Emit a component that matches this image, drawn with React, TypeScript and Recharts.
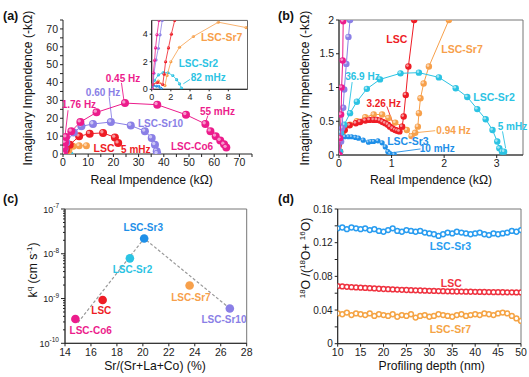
import React from "react";
import {
  ScatterChart,
  Scatter,
  XAxis,
  YAxis,
  ReferenceArea,
  ReferenceDot,
  ReferenceLine,
} from "recharts";

const FONT = "'Liberation Sans', Arial, sans-serif";

const C = {
  co6: "#EC1C8C",
  sr10: "#8A7FE6",
  lsc: "#EE1C25",
  sr7: "#F7A04B",
  sr2: "#2BC3E3",
  sr3: "#1E8FE8",
};

type P = [number, number];

// (a) main Nyquist plot, kOhm
const co6A: P[] = [[0.3, 0], [0.5, 3.5], [0.8, 6.5], [1.2, 9.5], [3.3, 12.7], [6.9, 17.9], [13.3, 23.3], [24.6, 28.5], [37.4, 27.6], [48.8, 22.0], [56.5, 16.8], [58.5, 12.8], [60.6, 9.9], [62.4, 7.6], [63.9, 5.4], [64.8, 3.6]];
const sr10A: P[] = [[0.3, 0], [0.6, 3], [1.3, 6.5], [4.3, 12.1], [7.3, 15.5], [11.9, 16.8], [19.0, 17.9], [26.9, 16.0], [32.5, 12.7], [35.2, 9.0], [36.5, 5.2], [37.2, 1.5], [37.4, 0.2]];
const lscA: P[] = [[0.5, 0], [1.2, 2.5], [2.7, 5.2], [6.4, 9.9], [10.6, 11.4], [15.9, 11.8], [20.6, 9.3], [21.9, 6.1]];
const sr7A: P[] = [[0.5, 0], [1.5, 0.9], [2.3, 2.0], [4.0, 4.3], [6.4, 4.6], [9.3, 4.6]];
const sr2A: P[] = [[0.3, 0.3], [1.5, 1.2], [2.6, 0.9], [3.1, 0.1]];
const sr3A: P[] = [[0.1, 0.1], [0.5, 0.25], [1.0, 0.05]];

// (a) inset
const co6I: P[] = [[0.1, 0], [0.17, 1.2], [0.3, 2.1], [0.4, 3.0], [0.55, 3.95], [0.76, 5.0], [0.9, 6]];
const sr10I: P[] = [[0.1, 0], [0.24, 1.16], [0.45, 2.13], [0.69, 2.98], [0.87, 3.95], [1.1, 5.0], [1.3, 6]];
const lscI: P[] = [[0.1, 0.35], [0.6, 0.5], [1.15, 0.35], [1.3, 1.1], [1.45, 2.0], [1.75, 3.0], [2.05, 4.0], [2.4, 5.0], [2.6, 6]];
const sr7I: P[] = [[0.1, 0.35], [0.7, 0.6], [1.38, 0.27], [1.6, 1.0], [2.0, 2.0], [2.9, 3.05], [4.35, 3.83], [6.95, 4.87], [9.85, 4.48]];
const sr2I: P[] = [[0.05, 0.2], [0.3, 0.65], [0.7, 1.04], [1.2, 1.22], [1.7, 1.2], [2.2, 1.0], [2.6, 0.7], [2.9, 0.4], [3.1, 0.08]];
const sr3I: P[] = [[0.05, 0.05], [0.2, 0.27], [0.5, 0.22], [0.75, 0.21], [0.95, 0.08], [1.05, 0.01]];

// (b) zoomed Nyquist plot
const co6B: P[] = [[0.01, 0], [0.02, 0.25], [0.04, 0.6], [0.05, 1.0], [0.07, 1.4], [0.08, 1.98], [0.1, 2.4]];
const sr10B: P[] = [[0.01, 0], [0.04, 0.2], [0.06, 0.4], [0.08, 0.7], [0.1, 0.97], [0.14, 1.35], [0.18, 1.75], [0.21, 2.0], [0.25, 2.4]];
const lscB: P[] = [[0.02, 0.05], [0.11, 0.37], [0.2, 0.44], [0.32, 0.47], [0.4, 0.49], [0.5, 0.51], [0.58, 0.52], [0.66, 0.52], [0.72, 0.52], [0.78, 0.51], [0.83, 0.49], [0.88, 0.47], [0.93, 0.45], [0.97, 0.42], [1.02, 0.39], [1.07, 0.37], [1.11, 0.36], [1.15, 0.35], [1.2, 0.42], [1.23, 0.57], [1.27, 0.89], [1.32, 1.31], [1.43, 2.0], [1.5, 2.4]];
const sr7B: P[] = [[0.02, 0.05], [0.08, 0.35], [0.21, 0.45], [0.34, 0.5], [0.5, 0.56], [0.66, 0.6], [0.82, 0.6], [0.94, 0.55], [1.07, 0.48], [1.2, 0.42], [1.29, 0.37], [1.38, 0.28], [1.45, 0.33], [1.5, 0.42], [1.52, 0.62], [1.55, 0.84], [1.61, 1.06], [1.71, 1.31], [2.09, 2.0], [2.2, 2.2]];
const sr2B: P[] = [[0.02, 0.05], [0.04, 0.33], [0.1, 0.45], [0.21, 0.62], [0.34, 0.79], [0.53, 0.98], [0.78, 1.12], [1.17, 1.21], [1.52, 1.22], [1.9, 1.15], [2.22, 0.99], [2.44, 0.86], [2.63, 0.68], [2.79, 0.53], [2.92, 0.37], [3.01, 0.2], [3.05, 0.1], [3.1, 0.05], [3.14, 0.05]];
const sr3B: P[] = [[0.0, 0.03], [0.04, 0.2], [0.11, 0.27], [0.18, 0.27], [0.24, 0.27], [0.31, 0.26], [0.37, 0.25], [0.46, 0.22], [0.56, 0.19], [0.61, 0.2], [0.66, 0.2], [0.74, 0.21], [0.82, 0.18], [0.88, 0.12], [0.93, 0.05], [0.97, 0.02], [1.05, 0.01]];

// (c) k^q vs Sr fraction
const cNames = ["LSC-Co6", "LSC", "LSC-Sr2", "LSC-Sr3", "LSC-Sr7", "LSC-Sr10"];
const cSr = [14.8, 16.9, 19.0, 20.1, 23.6, 26.7];
const cK = [3.5e-10, 9.3e-10, 7.9e-9, 2.2e-8, 1.95e-9, 6.0e-10];
const trendSr = [15.0, 20.1, 26.7];
const trendK = [2.9e-10, 2.2e-8, 6.0e-10];
const cColor: Record<string, string> = {
  "LSC-Co6": C.co6,
  LSC: C.lsc,
  "LSC-Sr2": C.sr2,
  "LSC-Sr3": C.sr3,
  "LSC-Sr7": C.sr7,
  "LSC-Sr10": C.sr10,
};

// (d) 18O fraction vs depth
const depth = [10, 11, 12, 13, 14, 15, 16, 17, 18, 19, 20, 21, 22, 23, 24, 25, 26, 27, 28, 29, 30, 31, 32, 33, 34, 35, 36, 37, 38, 39, 40, 41, 42, 43, 44, 45, 46, 47, 48, 49, 50];
const sr3D = [0.137, 0.138, 0.136, 0.138, 0.137, 0.136, 0.137, 0.135, 0.136, 0.134, 0.133, 0.135, 0.137, 0.134, 0.133, 0.135, 0.134, 0.133, 0.134, 0.132, 0.131, 0.130, 0.128, 0.130, 0.132, 0.131, 0.133, 0.132, 0.131, 0.130, 0.131, 0.132, 0.130, 0.129, 0.131, 0.130, 0.131, 0.132, 0.134, 0.133, 0.135];
const lscD = [0.0685, 0.068, 0.0676, 0.0672, 0.0669, 0.0665, 0.0662, 0.0659, 0.0656, 0.0653, 0.065, 0.0648, 0.0645, 0.0643, 0.064, 0.0638, 0.0636, 0.0634, 0.0632, 0.063, 0.0628, 0.0627, 0.0625, 0.0624, 0.0622, 0.0621, 0.062, 0.0619, 0.0618, 0.0617, 0.0616, 0.0615, 0.0614, 0.0613, 0.0612, 0.0612, 0.0611, 0.061, 0.061, 0.0609, 0.0609];
const sr7D = [0.036, 0.035, 0.037, 0.034, 0.036, 0.035, 0.034, 0.036, 0.033, 0.035, 0.034, 0.033, 0.035, 0.032, 0.034, 0.033, 0.035, 0.031, 0.033, 0.034, 0.032, 0.033, 0.035, 0.034, 0.033, 0.032, 0.034, 0.035, 0.033, 0.034, 0.035, 0.034, 0.036, 0.035, 0.034, 0.036, 0.037, 0.036, 0.033, 0.03, 0.027];

const pts = (a: P[]) => a.map(([x, y]) => ({ x, y }));
const zipD = (ys: number[]) => depth.map((x, i) => ({ x, y: ys[i] }));

const tick = (size: number) => ({ fontSize: size, fill: "#222", fontFamily: FONT });
const axisLine = { stroke: "#222", strokeWidth: 1 };

function ball(color: string, r: number) {
  return (p: any) => (
    <g>
      <circle cx={p.cx} cy={p.cy} r={r} fill={color} />
      <circle cx={p.cx - r * 0.3} cy={p.cy - r * 0.3} r={r * 0.42} fill="#fff" fillOpacity={0.55} />
    </g>
  );
}

function ring(color: string) {
  return (p: any) => <circle cx={p.cx} cy={p.cy} r={2.4} fill="#fff" stroke={color} strokeWidth={1.5} />;
}

function series(data: P[], color: string, r: number, lw = 1) {
  return (
    <Scatter
      data={pts(data)}
      fill={color}
      line={{ stroke: color, strokeWidth: lw }}
      lineType="joint"
      shape={ball(color, r)}
      isAnimationActive={false}
    />
  );
}

function note(x: number, y: number, text: string, color: string, size = 10) {
  return (
    <ReferenceDot
      key={text + x}
      x={x}
      y={y}
      r={0}
      fill="none"
      stroke="none"
      ifOverflow="visible"
      label={{ value: text, position: "center", fill: color, fontSize: size, fontWeight: "bold", fontFamily: FONT }}
    />
  );
}

function pointer(x1: number, y1: number, x2: number, y2: number, color: string) {
  return (
    <ReferenceLine
      key={`${x1}-${y1}`}
      segment={[{ x: x1, y: y1 }, { x: x2, y: y2 }]}
      stroke={color}
      strokeWidth={0.9}
      ifOverflow="visible"
    />
  );
}

const aTicks = [0, 5, 10, 15, 20, 25, 30, 35, 40, 45, 50, 55, 60, 65, 70, 75];
const every10 = (v: number) => (v % 10 === 0 && v < 75 ? String(v) : "");

function PanelA() {
  return (
    <ScatterChart width={265} height={185} margin={{ top: 20, right: 13, left: 18, bottom: 11 }}>
      <XAxis type="number" dataKey="x" domain={[0, 75]} ticks={aTicks} interval={0} tickFormatter={every10} tick={tick(10.5)} tickSize={3} axisLine={axisLine} tickLine={axisLine} height={20} allowDataOverflow />
      <YAxis type="number" dataKey="y" domain={[0, 75]} ticks={aTicks} interval={0} tickFormatter={every10} tick={tick(10.5)} tickSize={3} axisLine={axisLine} tickLine={axisLine} width={45} allowDataOverflow />
      {series(sr3A, C.sr3, 2.5)}
      {series(sr2A, C.sr2, 2.5)}
      {series(sr7A, C.sr7, 3.5)}
      {series(lscA, C.lsc, 4)}
      {series(sr10A, C.sr10, 4)}
      {series(co6A, C.co6, 4)}
      {pointer(2.0, 24.5, 0.8, 10, C.co6)}
      {pointer(18.3, 32.3, 19.3, 20.2, C.sr10)}
      {pointer(23.2, 39.8, 24.2, 29.8, C.co6)}
      {pointer(57.5, 21.5, 56.5, 17.5, C.co6)}
      {pointer(23.3, 4.2, 21.6, 8.0, C.lsc)}
      {note(23.8, 42.2, "0.45 Hz", C.co6)}
      {note(15.9, 34.2, "0.60 Hz", C.sr10)}
      {note(6.3, 27.8, "1.76 Hz", C.co6)}
      {note(61.3, 23.9, "55 mHz", C.co6)}
      {note(38.7, 17.3, "LSC-Sr10", C.sr10)}
      {note(16.3, 3.0, "LSC", C.lsc, 10.5)}
      {note(28.9, 2.6, "5 mHz", C.lsc)}
      {note(51.2, 4.0, "LSC-Co6", C.co6)}
    </ScatterChart>
  );
}

function InsetA() {
  return (
    <ScatterChart width={125} height={95} margin={{ top: 8.4, right: 7.5, left: 0, bottom: 3.7 }}>
      <XAxis type="number" dataKey="x" domain={[0, 10]} ticks={[0, 2, 4, 6, 8]} interval={0} tick={tick(9)} tickSize={2} axisLine={axisLine} tickLine={axisLine} height={14} allowDataOverflow />
      <YAxis type="number" dataKey="y" domain={[0, 5]} ticks={[0, 2, 4]} interval={0} tick={tick(9)} tickSize={2} axisLine={axisLine} tickLine={axisLine} width={21.7} allowDataOverflow />
      <ReferenceArea x1={0} x2={10} y1={0} y2={5} fill="none" stroke="#666" strokeWidth={1} />
      {series(sr3I, C.sr3, 1.4, 0.8)}
      {series(sr2I, C.sr2, 1.6, 0.8)}
      {series(sr7I, C.sr7, 1.6, 0.8)}
      {series(lscI, C.lsc, 1.6, 0.8)}
      {series(sr10I, C.sr10, 1.6, 0.8)}
      {series(co6I, C.co6, 1.6, 0.8)}
      {pointer(4.0, 0.72, 3.3, 0.4, C.sr2)}
      {note(7.3, 3.78, "LSC-Sr7", C.sr7, 10.5)}
      {note(4.87, 1.85, "LSC-Sr2", C.sr2, 10)}
      {note(5.9, 0.86, "82 mHz", C.sr2, 10)}
    </ScatterChart>
  );
}

function PanelB() {
  return (
    <ScatterChart width={264} height={185} margin={{ top: 20, right: 6, left: 29, bottom: 10 }}>
      <XAxis type="number" dataKey="x" domain={[0, 3.5]} ticks={[0, 1, 2, 3]} interval={0} tick={tick(10.5)} tickSize={3} axisLine={axisLine} tickLine={axisLine} height={20} allowDataOverflow />
      <YAxis type="number" dataKey="y" domain={[0, 2]} ticks={[0, 0.5, 1, 1.5, 2]} interval={0} tick={tick(10.5)} tickSize={3} axisLine={axisLine} tickLine={axisLine} width={45} allowDataOverflow />
      <ReferenceArea x1={0} x2={3.5} y1={0} y2={2} fill="none" stroke="#777" strokeWidth={1} />
      {series(sr7B, C.sr7, 3.2)}
      {series(lscB, C.lsc, 3.2)}
      {series(sr2B, C.sr2, 3.2)}
      {series(sr3B, C.sr3, 2.6)}
      {series(sr10B, C.sr10, 3.2)}
      {series(co6B, C.co6, 3.2)}
      {pointer(0.25, 1.08, 0.17, 0.6, C.sr2)}
      {pointer(0.91, 0.72, 1.06, 0.4, C.lsc)}
      {pointer(1.83, 0.36, 1.45, 0.33, C.sr7)}
      {pointer(3.11, 0.35, 3.17, 0.1, C.sr2)}
      {pointer(1.55, 0.09, 0.98, 0.03, C.sr3)}
      {note(1.1, 1.71, "LSC", C.lsc, 10.5)}
      {note(2.34, 1.56, "LSC-Sr7", C.sr7, 10.5)}
      {note(0.446, 1.16, "36.9 Hz", C.sr2)}
      {note(2.95, 0.86, "LSC-Sr2", C.sr2, 10.5)}
      {note(0.85, 0.77, "3.26 Hz", C.lsc)}
      {note(2.18, 0.37, "0.94 Hz", C.sr7)}
      {note(3.3, 0.42, "5 mHz", C.sr2)}
      {note(1.31, 0.21, "LSC-Sr3", C.sr3, 10.5)}
      {note(1.87, 0.1, "10 mHz", C.sr3)}
    </ScatterChart>
  );
}

const logTicks: number[] = [];
for (let e = -10; e < -7; e++) for (let m = 1; m < 10; m++) logTicks.push(m * Math.pow(10, e));
logTicks.push(1e-7);

function LogTick(p: any) {
  const v = p.payload.value;
  const e = Math.log10(v);
  const major = Math.abs(e - Math.round(e)) < 1e-6;
  const ax = p.x + 6;
  return (
    <g>
      <line x1={ax} x2={ax - (major ? 4 : 2)} y1={p.y} y2={p.y} stroke="#222" strokeWidth={1} />
      {major && (
        <text x={ax - 6} y={p.y + 3.5} textAnchor="end" fontSize={9} fill="#222" fontFamily={FONT}>
          10
          <tspan dy={-4.5} fontSize={6.5}>{String(Math.round(e))}</tspan>
        </text>
      )}
    </g>
  );
}

function PanelC() {
  const dots = cNames.map((name, i) => ({ name, x: cSr[i], y: cK[i] }));
  const trend = trendSr.map((x, i) => ({ x, y: trendK[i] }));
  return (
    <ScatterChart width={265} height={192} margin={{ top: 24, right: 18.3, left: 20, bottom: 13.7 }}>
      <XAxis type="number" dataKey="x" domain={[14, 28]} ticks={[14, 16, 18, 20, 22, 24, 26, 28]} interval={0} tick={tick(10.5)} tickSize={3} axisLine={axisLine} tickLine={axisLine} height={20} allowDataOverflow />
      <YAxis type="number" dataKey="y" scale="log" domain={[1e-10, 1e-7]} ticks={logTicks} tick={<LogTick />} tickSize={4} tickMargin={2} tickLine={false} axisLine={axisLine} width={45} allowDataOverflow interval={0} />
      <ReferenceArea x1={14} x2={28} y1={1e-10} y2={1e-7} fill="none" stroke="#777" strokeWidth={1} />
      <Scatter data={trend} line={{ stroke: "#999", strokeWidth: 1.2, strokeDasharray: "3 2" }} lineType="joint" shape={() => <g />} isAnimationActive={false} />
      <Scatter
        data={dots}
        shape={(p: any) => <circle cx={p.cx} cy={p.cy} r={4.3} fill={cColor[p.payload.name]} />}
        isAnimationActive={false}
      />
      {note(20.03, 3.9e-8, "LSC-Sr3", C.sr3)}
      {note(19.2, 4.57e-9, "LSC-Sr2", C.sr2)}
      {note(23.7, 1.07e-9, "LSC-Sr7", C.sr7)}
      {note(16.8, 5.37e-10, "LSC", C.lsc)}
      {note(15.98, 1.95e-10, "LSC-Co6", C.co6)}
      {note(26.25, 3.49e-10, "LSC-Sr10", C.sr10)}
    </ScatterChart>
  );
}

const dYTicks = [0, 0.02, 0.04, 0.06, 0.08, 0.1, 0.12, 0.14, 0.16];

function PanelD() {
  return (
    <ScatterChart width={264} height={192} margin={{ top: 24, right: 8, left: 27.7, bottom: 13.3 }}>
      <XAxis type="number" dataKey="x" domain={[10, 50]} ticks={[10, 15, 20, 25, 30, 35, 40, 45, 50]} interval={0} tick={tick(10.5)} tickSize={3} axisLine={axisLine} tickLine={axisLine} height={20} allowDataOverflow />
      <YAxis type="number" dataKey="y" domain={[0, 0.16]} ticks={dYTicks} tickFormatter={(v: number, i: number) => (i % 2 === 0 ? String(v) : "")} tick={tick(10)} tickSize={3} axisLine={axisLine} tickLine={axisLine} width={45} allowDataOverflow interval={0} />
      <ReferenceArea x1={10} x2={50} y1={0} y2={0.16} fill="none" stroke="#777" strokeWidth={1} />
      <Scatter data={zipD(sr7D)} shape={ring("#F5A445")} isAnimationActive={false} />
      <Scatter data={zipD(lscD)} shape={ring("#EF3340")} isAnimationActive={false} />
      <Scatter data={zipD(sr3D)} shape={ring("#2A9DF0")} isAnimationActive={false} />
      {note(34.6, 0.1152, "LSC-Sr3", "#2A9DF0", 10.5)}
      {note(34.8, 0.0717, "LSC", "#EF3340", 10.5)}
      {note(34.6, 0.0175, "LSC-Sr7", "#F5A445", 10.5)}
    </ScatterChart>
  );
}

function Titles() {
  const t = { fontFamily: FONT, fill: "#111" };
  return (
    <svg width={529} height={377} style={{ position: "absolute", left: 0, top: 0, pointerEvents: "none" }}>
      <g {...t} fontWeight="bold" fontSize={12.5}>
        <text x={3} y={20}>(a)</text>
        <text x={278} y={20}>(b)</text>
        <text x={3} y={203}>(c)</text>
        <text x={278} y={203}>(d)</text>
      </g>
      <g {...t} fontSize={12.2} textAnchor="middle">
        <text x={151.7} y={184}>Real Impendence (kΩ)</text>
        <text x={431} y={184}>Real Impendence (kΩ)</text>
        <text x={155} y={370}>Sr/(Sr+La+Co) (%)</text>
        <text x={431.7} y={370}>Profiling depth (nm)</text>
        <text x={31.5} y={88} transform="rotate(-90 31.5 88)">Imaginary Impendence (-kΩ)</text>
        <text x={308.5} y={88} transform="rotate(-90 308.5 88)">Imaginary Impendence (-kΩ)</text>
        <text x={36.5} y={270} transform="rotate(-90 36.5 270)">
          k<tspan dy={-5} fontSize={8}>q</tspan>
          <tspan dy={5}> (cm s</tspan>
          <tspan dy={-5} fontSize={8}>-1</tspan>
          <tspan dy={5}>)</tspan>
        </text>
        <text x={309.5} y={258} transform="rotate(-90 309.5 258)">
          <tspan dy={-5} fontSize={8}>18</tspan>
          <tspan dy={5}>O /(</tspan>
          <tspan dy={-5} fontSize={8}>18</tspan>
          <tspan dy={5}>O+ </tspan>
          <tspan dy={-5} fontSize={8}>16</tspan>
          <tspan dy={5}>O)</tspan>
        </text>
      </g>
    </svg>
  );
}

export default function App() {
  return (
    <div style={{ position: "absolute", left: 0, top: 0, width: 529, height: 377, background: "#fff", fontFamily: FONT, overflow: "hidden" }}>
      <div style={{ position: "absolute", left: 0, top: 0 }}>
        <PanelA />
      </div>
      <div style={{ position: "absolute", left: 130, top: 12 }}>
        <InsetA />
      </div>
      <div style={{ position: "absolute", left: 265, top: 0 }}>
        <PanelB />
      </div>
      <div style={{ position: "absolute", left: 0, top: 185 }}>
        <PanelC />
      </div>
      <div style={{ position: "absolute", left: 265, top: 185 }}>
        <PanelD />
      </div>
      <Titles />
    </div>
  );
}
